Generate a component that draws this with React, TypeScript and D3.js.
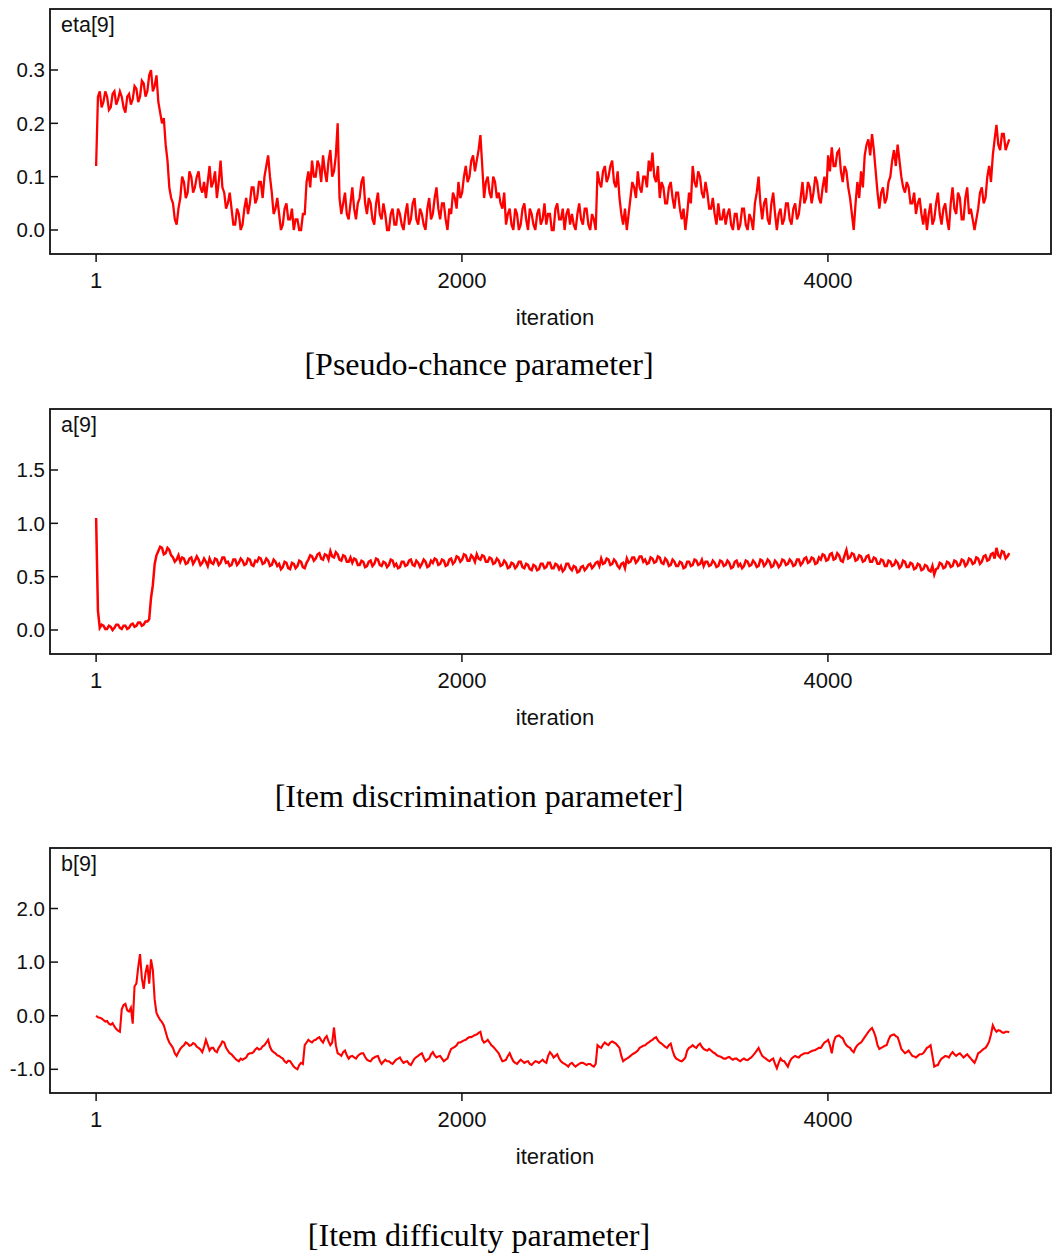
import React from "react";
import * as d3 from "d3";

// ---- data ----
// Each series is read from the trace: one value every 20 iterations (starting at
// iteration 1) plus a second value read half-way inside each 20-iteration window.
const ITER_STEP = 20;
const ITER_HALF = 10;

const etaValues = [
  0.12, 0.26, 0.24, 0.25, 0.23, 0.26, 0.245, 0.25, 0.22, 0.255,
  0.245, 0.265, 0.25, 0.275, 0.26, 0.30, 0.27, 0.24, 0.2, 0.16,
  0.08, 0.05, 0.01, 0.06, 0.09, 0.07, 0.1, 0.08, 0.11, 0.07,
  0.06, 0.12, 0.09, 0.06, 0.13, 0.07, 0.05, 0.04, 0.01, 0.03,
  0.01, 0.06, 0.05, 0.08, 0.06, 0.09, 0.1, 0.14, 0.07, 0.04,
  0.03, 0.01, 0.05, 0.02, 0.0, 0.02, 0.0, 0.03, 0.11, 0.13,
  0.1, 0.12, 0.14, 0.09, 0.15, 0.11, 0.2, 0.03, 0.07, 0.02,
  0.08, 0.02, 0.06, 0.1, 0.03, 0.05, 0.01, 0.07, 0.02, 0.03,
  0.0, 0.04, 0.01, 0.03, 0.0, 0.05, 0.02, 0.06, 0.01, 0.03,
  0.0, 0.06, 0.03, 0.08, 0.02, 0.05, 0.0, 0.03, 0.06, 0.09,
  0.07, 0.12, 0.1, 0.14, 0.13, 0.178, 0.06, 0.1, 0.06, 0.09,
  0.07, 0.04, 0.01, 0.04, 0.0, 0.03, 0.01, 0.05, 0.0, 0.03,
  0.0, 0.04, 0.02, 0.01, 0.03, 0.0, 0.05, 0.02, 0.0, 0.04,
  0.03, 0.0, 0.05, 0.01, 0.04, 0.0, 0.02, 0.11, 0.08, 0.12,
  0.1, 0.13, 0.08, 0.06, 0.01, 0.0, 0.06, 0.08, 0.11, 0.07,
  0.1, 0.13, 0.145, 0.09, 0.06, 0.08, 0.05, 0.09, 0.04, 0.07,
  0.02, 0.0, 0.07, 0.12, 0.08, 0.1, 0.06, 0.07, 0.04, 0.03,
  0.05, 0.02, 0.01, 0.04, 0.0, 0.03, 0.01, 0.04, 0.0, 0.02,
  0.05, 0.1, 0.02, 0.06, 0.01, 0.07, 0.0, 0.04, 0.02, 0.05,
  0.01, 0.05, 0.03, 0.09, 0.06, 0.08, 0.07, 0.09, 0.05, 0.1,
  0.14, 0.155, 0.12, 0.15, 0.09, 0.11, 0.06, 0.0, 0.09, 0.11,
  0.14, 0.17, 0.18, 0.11, 0.04, 0.08, 0.06, 0.1, 0.15, 0.16,
  0.1, 0.07, 0.08, 0.05, 0.03, 0.06, 0.01, 0.0, 0.05, 0.02,
  0.07, 0.01, 0.05, 0.0, 0.08, 0.03, 0.06, 0.02, 0.08, 0.04,
  0.0, 0.04, 0.08, 0.06, 0.12, 0.14, 0.197, 0.15, 0.18, 0.16,
];
const etaMid = [
  0.25, 0.23, 0.26, 0.225, 0.255, 0.235, 0.26, 0.23, 0.25, 0.235,
  0.27, 0.24, 0.28, 0.25, 0.29, 0.26, 0.29, 0.22, 0.21, 0.13,
  0.06, 0.02, 0.04, 0.1, 0.06, 0.11, 0.07, 0.1, 0.08, 0.09,
  0.09, 0.08, 0.11, 0.09, 0.08, 0.04, 0.07, 0.01, 0.04, 0.0,
  0.04, 0.03, 0.08, 0.05, 0.09, 0.06, 0.12, 0.1, 0.03, 0.06,
  0.0, 0.04, 0.02, 0.04, 0.02, 0.0, 0.03, 0.09, 0.08, 0.1,
  0.13, 0.09, 0.11, 0.13, 0.1, 0.14, 0.06, 0.05, 0.03, 0.05,
  0.04, 0.05, 0.09, 0.05, 0.06, 0.02, 0.05, 0.03, 0.05, 0.0,
  0.03, 0.01, 0.04, 0.01, 0.03, 0.01, 0.05, 0.02, 0.04, 0.01,
  0.04, 0.02, 0.06, 0.04, 0.05, 0.02, 0.04, 0.07, 0.04, 0.06,
  0.1, 0.09, 0.13, 0.11, 0.15, 0.12, 0.09, 0.07, 0.1, 0.06,
  0.05, 0.07, 0.03, 0.01, 0.04, 0.0, 0.04, 0.02, 0.04, 0.01,
  0.03, 0.01, 0.05, 0.03, 0.0, 0.04, 0.02, 0.04, 0.03, 0.01,
  0.01, 0.03, 0.02, 0.04, 0.01, 0.03, 0.0, 0.09, 0.11, 0.09,
  0.12, 0.09, 0.11, 0.03, 0.04, 0.03, 0.09, 0.06, 0.08, 0.1,
  0.08, 0.11, 0.1, 0.12, 0.09, 0.05, 0.08, 0.06, 0.07, 0.04,
  0.04, 0.03, 0.05, 0.09, 0.11, 0.07, 0.09, 0.04, 0.06, 0.01,
  0.02, 0.04, 0.03, 0.01, 0.03, 0.0, 0.04, 0.01, 0.03, 0.0,
  0.07, 0.05, 0.05, 0.02, 0.05, 0.03, 0.03, 0.01, 0.05, 0.02,
  0.04, 0.02, 0.06, 0.05, 0.09, 0.05, 0.1, 0.06, 0.08, 0.07,
  0.11, 0.12, 0.145, 0.11, 0.12, 0.08, 0.03, 0.05, 0.06, 0.08,
  0.16, 0.14, 0.15, 0.07, 0.07, 0.05, 0.09, 0.13, 0.12, 0.13,
  0.08, 0.09, 0.05, 0.07, 0.05, 0.03, 0.04, 0.03, 0.01, 0.05,
  0.03, 0.04, 0.02, 0.05, 0.04, 0.07, 0.02, 0.06, 0.03, 0.02,
  0.02, 0.07, 0.05, 0.1, 0.09, 0.17, 0.16, 0.18, 0.15, 0.17,
];

const aValues = [
  1.05, 0.02, 0.04, 0.01, 0.03, 0.02, 0.05, 0.01, 0.04, 0.02,
  0.06, 0.04, 0.07, 0.05, 0.08, 0.3, 0.62, 0.74, 0.77, 0.72,
  0.75, 0.68, 0.66, 0.64, 0.67, 0.63, 0.68, 0.65, 0.66, 0.63,
  0.64, 0.67, 0.62, 0.66, 0.63, 0.68, 0.64, 0.61, 0.66, 0.63,
  0.65, 0.62, 0.66, 0.6, 0.64, 0.67, 0.63, 0.65, 0.61, 0.64,
  0.62, 0.59, 0.63, 0.57, 0.62, 0.6, 0.64, 0.58, 0.66, 0.69,
  0.67, 0.72, 0.66, 0.7, 0.74, 0.68, 0.71, 0.65, 0.69, 0.64,
  0.63, 0.66, 0.61, 0.64, 0.6, 0.65, 0.62, 0.66, 0.6, 0.63,
  0.61, 0.65, 0.62, 0.59, 0.64, 0.61, 0.66, 0.6, 0.63, 0.62,
  0.64, 0.6, 0.63, 0.66, 0.62, 0.65, 0.61, 0.67, 0.64, 0.68,
  0.66, 0.7, 0.65, 0.68, 0.71, 0.66, 0.69, 0.64, 0.67, 0.63,
  0.65, 0.61, 0.63, 0.59, 0.62, 0.6, 0.64, 0.58, 0.61, 0.56,
  0.6, 0.57, 0.62, 0.59, 0.63, 0.58, 0.61, 0.6, 0.57, 0.62,
  0.56, 0.59, 0.55, 0.6, 0.58, 0.62, 0.6, 0.64, 0.67, 0.63,
  0.66, 0.62, 0.64, 0.58, 0.63, 0.67, 0.64, 0.68, 0.65, 0.69,
  0.66, 0.63, 0.67, 0.64, 0.68, 0.62, 0.65, 0.61, 0.64, 0.6,
  0.63, 0.59, 0.64, 0.61, 0.65, 0.62, 0.6, 0.64, 0.61, 0.63,
  0.6, 0.64, 0.61, 0.63, 0.59, 0.65, 0.62, 0.6, 0.64, 0.61,
  0.63, 0.6, 0.65, 0.62, 0.64, 0.6, 0.63, 0.61, 0.65, 0.62,
  0.64, 0.61, 0.66, 0.63, 0.68, 0.64, 0.67, 0.63, 0.66, 0.7,
  0.66, 0.72, 0.67, 0.7, 0.64, 0.75, 0.68, 0.71, 0.66, 0.69,
  0.65, 0.7, 0.64, 0.67, 0.62, 0.65, 0.6, 0.64, 0.61, 0.63,
  0.6, 0.64, 0.59, 0.62, 0.58, 0.61, 0.57, 0.6, 0.55, 0.52,
  0.58, 0.62, 0.59, 0.63, 0.6, 0.64, 0.61, 0.65, 0.62, 0.66,
  0.63, 0.67, 0.64, 0.7, 0.66, 0.72, 0.77, 0.68, 0.73, 0.69,
];
const aMid = [
  0.18, 0.05, 0.01, 0.04, 0.0, 0.05, 0.02, 0.04, 0.01, 0.05,
  0.03, 0.07, 0.04, 0.08, 0.1, 0.42, 0.7, 0.78, 0.71, 0.77,
  0.7, 0.64, 0.7, 0.68, 0.62, 0.67, 0.62, 0.69, 0.61, 0.67,
  0.6, 0.63, 0.67, 0.61, 0.68, 0.63, 0.6, 0.66, 0.61, 0.67,
  0.61, 0.67, 0.61, 0.65, 0.68, 0.62, 0.67, 0.6, 0.66, 0.6,
  0.57, 0.64, 0.58, 0.63, 0.58, 0.65, 0.59, 0.63, 0.7, 0.65,
  0.71, 0.67, 0.71, 0.66, 0.69, 0.73, 0.66, 0.7, 0.64, 0.68,
  0.67, 0.61, 0.65, 0.59, 0.64, 0.6, 0.67, 0.61, 0.64, 0.59,
  0.66, 0.6, 0.58, 0.64, 0.6, 0.65, 0.61, 0.65, 0.59, 0.66,
  0.59, 0.65, 0.67, 0.61, 0.66, 0.6, 0.66, 0.62, 0.69, 0.64,
  0.71, 0.65, 0.7, 0.64, 0.67, 0.7, 0.64, 0.68, 0.62, 0.67,
  0.6, 0.65, 0.58, 0.63, 0.58, 0.64, 0.59, 0.62, 0.57, 0.61,
  0.56, 0.62, 0.58, 0.63, 0.58, 0.62, 0.57, 0.55, 0.62, 0.58,
  0.6, 0.54, 0.59, 0.56, 0.61, 0.58, 0.63, 0.6, 0.62, 0.67,
  0.61, 0.66, 0.6, 0.62, 0.58, 0.63, 0.68, 0.63, 0.69, 0.64,
  0.62, 0.68, 0.63, 0.69, 0.63, 0.67, 0.6, 0.66, 0.6, 0.64,
  0.58, 0.64, 0.6, 0.66, 0.61, 0.66, 0.64, 0.6, 0.65, 0.59,
  0.65, 0.6, 0.65, 0.58, 0.64, 0.6, 0.58, 0.65, 0.6, 0.65,
  0.59, 0.66, 0.6, 0.66, 0.59, 0.65, 0.59, 0.66, 0.61, 0.66,
  0.6, 0.66, 0.61, 0.67, 0.63, 0.68, 0.62, 0.68, 0.71, 0.65,
  0.71, 0.66, 0.72, 0.65, 0.7, 0.67, 0.72, 0.65, 0.7, 0.64,
  0.69, 0.64, 0.68, 0.62, 0.66, 0.6, 0.65, 0.6, 0.65, 0.58,
  0.65, 0.59, 0.63, 0.57, 0.62, 0.56, 0.61, 0.56, 0.6, 0.57,
  0.63, 0.58, 0.64, 0.59, 0.65, 0.6, 0.66, 0.6, 0.67, 0.62,
  0.68, 0.62, 0.69, 0.65, 0.71, 0.67, 0.7, 0.74, 0.67, 0.72,
];

const bValues = [
  0.0, -0.04, -0.08, -0.1, -0.17, -0.2, -0.28, 0.12, 0.22, 0.08,
  -0.15, 0.6, 1.15, 0.5, 0.95, 1.05, 0.3, -0.02, -0.12, -0.3,
  -0.5, -0.6, -0.75, -0.62, -0.55, -0.52, -0.55, -0.53, -0.6, -0.68,
  -0.45, -0.65, -0.6, -0.68, -0.55, -0.5, -0.65, -0.72, -0.8, -0.85,
  -0.82, -0.78, -0.7, -0.68, -0.6, -0.62, -0.55, -0.45, -0.65, -0.7,
  -0.75, -0.8, -0.88, -0.85, -0.95, -1.0, -0.88, -0.55, -0.45, -0.5,
  -0.45, -0.4, -0.5, -0.38, -0.55, -0.22, -0.7, -0.75, -0.65, -0.8,
  -0.75, -0.8, -0.72, -0.7, -0.82, -0.85, -0.78, -0.75, -0.9, -0.82,
  -0.85, -0.9, -0.82, -0.78, -0.88, -0.85, -0.92, -0.8, -0.75, -0.7,
  -0.85, -0.8, -0.68, -0.78, -0.75, -0.85, -0.8, -0.62, -0.58, -0.5,
  -0.48, -0.45, -0.4, -0.38, -0.35, -0.3, -0.5, -0.45, -0.55, -0.62,
  -0.7, -0.85, -0.82, -0.7, -0.85, -0.9, -0.82, -0.88, -0.85, -0.92,
  -0.85, -0.88, -0.82, -0.88, -0.68, -0.78, -0.72, -0.85, -0.9, -0.95,
  -0.88, -0.95, -0.9, -0.88, -0.92, -0.9, -0.95, -0.55, -0.6, -0.5,
  -0.55, -0.48, -0.52, -0.6, -0.85, -0.8, -0.75, -0.7, -0.65, -0.58,
  -0.55, -0.5, -0.45, -0.4, -0.5, -0.55, -0.6, -0.52, -0.75, -0.82,
  -0.85, -0.78, -0.6, -0.55, -0.6, -0.52, -0.62, -0.65, -0.65, -0.7,
  -0.75, -0.78, -0.8, -0.77, -0.82, -0.8, -0.85, -0.8, -0.83, -0.78,
  -0.7, -0.6, -0.75, -0.8, -0.85, -0.8, -0.98, -0.8, -0.85, -0.95,
  -0.8, -0.75, -0.78, -0.72, -0.7, -0.68, -0.65, -0.62, -0.6, -0.5,
  -0.45, -0.7, -0.4, -0.37, -0.42, -0.55, -0.6, -0.68, -0.55, -0.5,
  -0.4, -0.3, -0.23, -0.4, -0.62, -0.58, -0.55, -0.38, -0.35, -0.4,
  -0.62, -0.7, -0.65, -0.75, -0.78, -0.72, -0.7, -0.6, -0.55, -0.95,
  -0.92, -0.8, -0.75, -0.78, -0.68, -0.75, -0.7, -0.78, -0.72, -0.8,
  -0.88, -0.7, -0.65, -0.6, -0.48, -0.18, -0.3, -0.28, -0.32, -0.3,
];
const bMid = [
  -0.03, -0.05, -0.11, -0.15, -0.14, -0.25, -0.3, 0.2, 0.1, 0.15,
  0.55, 0.9, 0.7, 0.8, 0.6, 0.85, 0.05, -0.08, -0.18, -0.42,
  -0.55, -0.7, -0.68, -0.58, -0.5, -0.56, -0.51, -0.58, -0.63, -0.58,
  -0.55, -0.6, -0.66, -0.6, -0.48, -0.6, -0.7, -0.76, -0.83, -0.8,
  -0.8, -0.72, -0.7, -0.63, -0.63, -0.57, -0.5, -0.58, -0.68, -0.74,
  -0.78, -0.85, -0.84, -0.9, -0.98, -0.92, -0.9, -0.5, -0.48, -0.46,
  -0.42, -0.46, -0.42, -0.48, -0.5, -0.55, -0.72, -0.68, -0.74, -0.76,
  -0.78, -0.75, -0.7, -0.77, -0.84, -0.8, -0.76, -0.84, -0.86, -0.85,
  -0.88, -0.86, -0.8, -0.84, -0.86, -0.9, -0.86, -0.77, -0.72, -0.78,
  -0.82, -0.72, -0.74, -0.76, -0.8, -0.82, -0.7, -0.6, -0.55, -0.5,
  -0.46, -0.42, -0.4, -0.36, -0.32, -0.45, -0.48, -0.5, -0.58, -0.66,
  -0.78, -0.84, -0.75, -0.78, -0.88, -0.86, -0.85, -0.86, -0.9, -0.88,
  -0.86, -0.85, -0.86, -0.75, -0.72, -0.75, -0.8, -0.88, -0.92, -0.9,
  -0.92, -0.92, -0.88, -0.9, -0.9, -0.93, -0.9, -0.58, -0.54, -0.53,
  -0.5, -0.5, -0.56, -0.75, -0.82, -0.78, -0.72, -0.68, -0.6, -0.56,
  -0.52, -0.47, -0.42, -0.46, -0.52, -0.58, -0.55, -0.65, -0.8, -0.84,
  -0.82, -0.65, -0.58, -0.58, -0.55, -0.58, -0.64, -0.62, -0.68, -0.73,
  -0.76, -0.8, -0.78, -0.8, -0.8, -0.83, -0.82, -0.82, -0.8, -0.74,
  -0.65, -0.68, -0.78, -0.83, -0.82, -0.9, -0.88, -0.84, -0.9, -0.86,
  -0.77, -0.77, -0.74, -0.7, -0.7, -0.66, -0.64, -0.6, -0.55, -0.48,
  -0.55, -0.5, -0.38, -0.4, -0.5, -0.58, -0.65, -0.6, -0.52, -0.45,
  -0.35, -0.26, -0.3, -0.55, -0.6, -0.56, -0.45, -0.36, -0.38, -0.5,
  -0.66, -0.68, -0.7, -0.76, -0.75, -0.72, -0.65, -0.58, -0.75, -0.93,
  -0.85, -0.78, -0.76, -0.72, -0.72, -0.72, -0.74, -0.75, -0.76, -0.84,
  -0.8, -0.68, -0.62, -0.55, -0.35, -0.25, -0.27, -0.31, -0.3, -0.31,
];

const panelLabels = ["eta[9]", "a[9]", "b[9]"];
const captions = [
  "[Pseudo-chance parameter]",
  "[Item discrimination parameter]",
  "[Item difficulty parameter]",
];
const etaTicks = [0.0, 0.1, 0.2, 0.3];
const aTicks = [0.0, 0.5, 1.0, 1.5];
const bTicks = [-1.0, 0.0, 1.0, 2.0];
const xTicks = [1, 2000, 4000];
const xTitle = "iteration";

// ---- layout ----
const W = 1053;
const H = 1255;
const FRAME_LEFT = 50;
const FRAME_RIGHT = 1051;
const FRAME_H = 245;
const X_DOMAIN: [number, number] = [-251, 5219];

const panels = [
  { values: etaValues, mid: etaMid, ticks: etaTicks, domain: [-0.045, 0.4144], top: 9, captionY: 375, label: panelLabels[0], caption: captions[0], stroke: 2.3 },
  { values: aValues, mid: aMid, ticks: aTicks, domain: [-0.225, 2.072], top: 409, captionY: 807, label: panelLabels[1], caption: captions[1], stroke: 2.5 },
  { values: bValues, mid: bMid, ticks: bTicks, domain: [-1.442, 3.129], top: 848, captionY: 1246, label: panelLabels[2], caption: captions[2], stroke: 2.1 },
];

const SANS = "Arial, 'Liberation Sans', Helvetica, sans-serif";
const SERIF = "'Times New Roman', 'Liberation Serif', Times, serif";

function Panel({ p }: { p: (typeof panels)[number] }) {
  const x = d3.scaleLinear().domain(X_DOMAIN).range([FRAME_LEFT, FRAME_RIGHT]);
  const y = d3.scaleLinear().domain(p.domain).range([p.top + FRAME_H, p.top]);
  const pts: [number, number][] = [];
  p.values.forEach((v, i) => {
    pts.push([1 + i * ITER_STEP, v]);
    pts.push([1 + i * ITER_STEP + ITER_HALF, p.mid[i]]);
  });
  const line = d3
    .line<[number, number]>()
    .x((d) => x(d[0]))
    .y((d) => y(d[1]));
  const bottom = p.top + FRAME_H;
  return (
    <g>
      <path d={line(pts) || ""} fill="none" stroke="#ff0000" strokeWidth={p.stroke} />
      <rect x={FRAME_LEFT} y={p.top} width={FRAME_RIGHT - FRAME_LEFT} height={FRAME_H} fill="none" stroke="#111" strokeWidth={1.8} />
      <text x={61} y={p.top + 23} fontFamily={SANS} fontSize={21.5} fill="#111">{p.label}</text>
      {p.ticks.map((t) => (
        <g key={t}>
          <line x1={FRAME_LEFT} x2={FRAME_LEFT + 8} y1={y(t)} y2={y(t)} stroke="#111" strokeWidth={1.5} />
          <text x={45} y={y(t)} dy="0.35em" textAnchor="end" fontFamily={SANS} fontSize={20.5} fill="#111">
            {t.toFixed(1)}
          </text>
        </g>
      ))}
      {xTicks.map((t) => (
        <g key={t}>
          <line x1={x(t)} x2={x(t)} y1={bottom} y2={bottom + 8} stroke="#111" strokeWidth={1.5} />
          <text x={x(t)} y={p.top + 279} textAnchor="middle" fontFamily={SANS} fontSize={22} fill="#111">
            {t}
          </text>
        </g>
      ))}
      <text x={555} y={p.top + 316} textAnchor="middle" fontFamily={SANS} fontSize={22} fill="#111">
        {xTitle}
      </text>
      <text x={479} y={p.captionY} textAnchor="middle" fontFamily={SERIF} fontSize={32} fill="#000">
        {p.caption}
      </text>
    </g>
  );
}

export default function App() {
  return (
    <svg
      width={W}
      height={H}
      viewBox={`0 0 ${W} ${H}`}
      style={{ position: "absolute", left: 0, top: 0, background: "#fff" }}
    >
      <rect x={0} y={0} width={W} height={H} fill="#fff" />
      {panels.map((p, i) => (
        <Panel key={i} p={p} />
      ))}
    </svg>
  );
}
